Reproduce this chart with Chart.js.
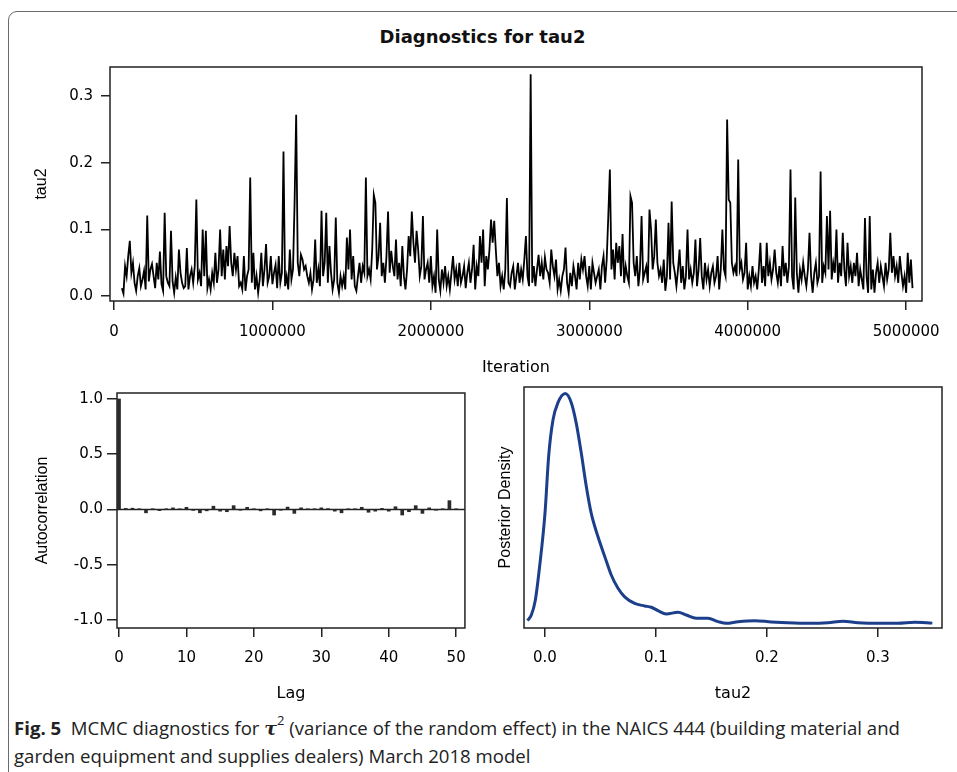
<!DOCTYPE html>
<html>
<head>
<meta charset="utf-8">
<script src="https://cdn.jsdelivr.net/npm/chart.js@4.4.1/dist/chart.umd.min.js"></script>
<style>
  body { margin: 0; width: 957px; height: 772px; overflow: hidden; background: #fff; position: relative; }
  #frame { position: absolute; left: 8px; top: 11px; width: 1000px; height: 800px; border: 1.5px solid #6b6b6b; border-radius: 9px; }
  #title { position: absolute; left: 0; top: 26px; width: 965px; text-align: center; font: bold 18px "DejaVu Sans", sans-serif; line-height: 22px; color: #111; }
  canvas { position: absolute; }
  #trace { left: 0; top: 50px; }
  #acf { left: 0; top: 380px; }
  #dens { left: 478px; top: 380px; }
  #caption { position: absolute; left: 14px; top: 714px; font: 18.6px "Open Sans", sans-serif; line-height: 27px; color: #222;
             white-space: nowrap; }
  #caption b { font-weight: 700; }
  #caption .tau { font-family: "DejaVu Serif", serif; font-style: italic; font-weight: bold; font-size: 19px; }
  #caption sup { font-size: 13px; position: relative; top: -3px; line-height: 0; }
</style>
</head>
<body>
<div id="frame"></div>
<div id="title">Diagnostics for tau2</div>
<canvas id="trace" width="957" height="330"></canvas>
<canvas id="acf" width="478" height="330"></canvas>
<canvas id="dens" width="479" height="330"></canvas>
<div id="caption"><b>Fig. 5</b>&nbsp; MCMC diagnostics for <span class="tau">τ</span><sup>2</sup> (variance of the random effect) in the NAICS 444 (building material and<br>garden equipment and supplies dealers) March 2018 model</div>

<script>
// trace of tau2, one value every 10000 iterations starting at 50000
const firstIter = 50000;
const thinBy = 10000;
const tau2Trace = [
  0.012,0.004,0.045,0.030,0.060,0.083,0.035,0.050,0.020,0.008,0.030,0.042,0.015,0.025,0.038,0.010,0.121,0.022,0.040,0.048,
  0.030,0.012,0.050,0.025,0.067,0.018,0.008,0.125,0.030,0.020,0.015,0.098,0.022,0.005,0.028,0.010,0.070,0.035,0.020,0.012,
  0.015,0.072,0.010,0.030,0.040,0.020,0.045,0.145,0.025,0.035,0.015,0.100,0.030,0.098,0.012,0.025,0.010,0.035,0.020,0.065,
  0.020,0.040,0.100,0.030,0.070,0.025,0.075,0.045,0.105,0.050,0.030,0.065,0.040,0.060,0.015,0.020,0.010,0.060,0.008,0.030,
  0.040,0.178,0.020,0.065,0.010,0.030,0.005,0.025,0.065,0.015,0.040,0.078,0.020,0.030,0.060,0.018,0.035,0.047,0.012,0.060,
  0.020,0.035,0.217,0.015,0.030,0.010,0.070,0.025,0.040,0.140,0.272,0.050,0.030,0.062,0.055,0.040,0.045,0.030,0.020,0.035,
  0.010,0.025,0.085,0.020,0.040,0.015,0.128,0.030,0.050,0.125,0.020,0.075,0.035,0.010,0.025,0.118,0.020,0.005,0.030,0.015,
  0.030,0.010,0.088,0.040,0.100,0.025,0.060,0.015,0.008,0.030,0.050,0.020,0.045,0.035,0.178,0.030,0.040,0.025,0.070,0.152,
  0.140,0.040,0.060,0.110,0.030,0.050,0.020,0.060,0.127,0.035,0.068,0.045,0.030,0.085,0.025,0.050,0.015,0.075,0.030,0.010,
  0.040,0.090,0.060,0.127,0.080,0.050,0.098,0.070,0.030,0.045,0.120,0.025,0.040,0.050,0.020,0.060,0.015,0.030,0.005,0.100,
  0.025,0.008,0.040,0.020,0.045,0.015,0.030,0.010,0.035,0.060,0.025,0.040,0.015,0.050,0.020,0.030,0.045,0.012,0.035,0.050,
  0.020,0.040,0.077,0.010,0.045,0.030,0.090,0.050,0.100,0.015,0.060,0.040,0.070,0.115,0.080,0.113,0.070,0.030,0.050,0.015,
  0.030,0.010,0.040,0.147,0.020,0.015,0.035,0.045,0.010,0.030,0.050,0.020,0.040,0.025,0.055,0.090,0.030,0.015,0.333,0.020,
  0.045,0.015,0.040,0.062,0.030,0.050,0.025,0.058,0.040,0.035,0.020,0.070,0.045,0.030,0.055,0.010,0.025,0.008,0.030,0.040,
  0.073,0.020,0.005,0.035,0.015,0.045,0.030,0.010,0.050,0.025,0.055,0.040,0.060,0.030,0.015,0.045,0.010,0.050,0.035,0.020,
  0.030,0.040,0.010,0.045,0.060,0.020,0.055,0.120,0.190,0.040,0.070,0.025,0.080,0.050,0.075,0.030,0.093,0.020,0.045,0.030,
  0.020,0.150,0.140,0.050,0.030,0.060,0.015,0.040,0.120,0.025,0.035,0.045,0.020,0.130,0.100,0.040,0.060,0.115,0.050,0.030,
  0.040,0.020,0.055,0.008,0.030,0.110,0.025,0.142,0.050,0.035,0.015,0.040,0.070,0.020,0.045,0.010,0.030,0.100,0.025,0.040,
  0.020,0.035,0.085,0.015,0.040,0.087,0.030,0.010,0.050,0.025,0.040,0.015,0.035,0.045,0.020,0.030,0.060,0.010,0.040,0.100,
  0.040,0.030,0.265,0.145,0.140,0.050,0.035,0.045,0.030,0.205,0.040,0.050,0.025,0.035,0.080,0.010,0.030,0.015,0.045,0.020,
  0.030,0.010,0.040,0.080,0.020,0.045,0.015,0.080,0.030,0.050,0.025,0.040,0.070,0.035,0.020,0.045,0.015,0.075,0.030,0.050,
  0.020,0.045,0.190,0.030,0.010,0.148,0.035,0.005,0.040,0.025,0.050,0.030,0.015,0.040,0.095,0.030,0.005,0.035,0.050,0.020,
  0.030,0.187,0.020,0.045,0.035,0.120,0.040,0.128,0.025,0.050,0.035,0.100,0.020,0.050,0.030,0.095,0.040,0.015,0.080,0.030,
  0.045,0.020,0.050,0.030,0.065,0.015,0.040,0.025,0.010,0.117,0.030,0.005,0.120,0.010,0.040,0.005,0.035,0.050,0.020,0.045,
  0.030,0.015,0.050,0.025,0.040,0.095,0.035,0.060,0.030,0.045,0.020,0.060,0.035,0.015,0.030,0.005,0.065,0.020,0.055,0.012
];
const iterTicks = [0, 1000000, 2000000, 3000000, 4000000, 5000000];
const tau2Ticks = [0, 0.1, 0.2, 0.3];

// autocorrelation by lag
const acfValues = [
  1.0, 0.010, 0.012, 0.005, -0.030, 0.005, -0.010, 0.005, 0.015, 0.003,
  0.020, -0.008, -0.030, -0.012, 0.030, -0.015, -0.020, 0.035, -0.005, 0.020,
  0.003, -0.012, 0.002, -0.050, -0.005, 0.022, -0.035, 0.015, 0.003, 0.002,
  0.015, 0.008, -0.015, -0.030, 0.002, 0.002, 0.020, -0.025, -0.015, 0.010,
  -0.015, 0.025, -0.050, -0.020, 0.035, -0.035, 0.015, -0.005, 0.002, 0.080,
  0.002
];
const lagTicks = [0, 10, 20, 30, 40, 50];
const acfTicks = [-1, -0.5, 0, 0.5, 1];

// posterior density of tau2
const densX = [-0.0157, -0.0123, -0.0087, -0.0048, 0.0, 0.0033, 0.0072, 0.0117, 0.0183, 0.0237,
  0.0282, 0.0327, 0.0372, 0.0417, 0.0477, 0.0538, 0.0597, 0.0658, 0.0718, 0.0808,
  0.0898, 0.0958, 0.1018, 0.1093, 0.1198, 0.1273, 0.1363, 0.1468, 0.1559, 0.1633,
  0.174, 0.189, 0.204, 0.225, 0.240, 0.255, 0.2685, 0.282, 0.300, 0.318, 0.333, 0.349];
const densY = [0.32, 1.0, 2.8, 6.9, 13.3, 20.2, 24.6, 26.7, 27.8, 26.7,
  24.2, 20.6, 16.6, 13.3, 10.5, 8.1, 5.85, 4.24, 3.2, 2.4,
  2.1, 1.94, 1.53, 1.13, 1.33, 1.0, 0.6, 0.6, 0.2, 0.0,
  0.2, 0.32, 0.16, 0.04, 0.0, 0.08, 0.25, 0.08, 0.0, 0.0, 0.12, 0.02];
const densTicks = [0, 0.1, 0.2, 0.3];

Chart.defaults.font.family = '"DejaVu Sans", sans-serif';
Chart.defaults.font.size = 15;
Chart.defaults.color = '#000';
Chart.defaults.animation = false;
Chart.defaults.plugins.legend.display = false;
Chart.defaults.plugins.tooltip.enabled = false;

const ink = '#222';

const boxPlugin = {
  id: 'box',
  afterDraw(chart) {
    const { ctx, chartArea: a } = chart;
    ctx.save();
    ctx.strokeStyle = ink;
    ctx.lineWidth = 1.5;
    ctx.strokeRect(a.left, a.top, a.right - a.left, a.bottom - a.top);
    ctx.restore();
  }
};

const zeroLine = {
  id: 'zeroLine',
  beforeDatasetsDraw(chart) {
    const { ctx, chartArea: a, scales } = chart;
    const y = scales.y.getPixelForValue(0);
    ctx.save();
    ctx.strokeStyle = ink;
    ctx.lineWidth = 1.5;
    ctx.beginPath();
    ctx.moveTo(a.left, y);
    ctx.lineTo(a.right, y);
    ctx.stroke();
    ctx.restore();
  }
};

const oneDecimal = v => Number(v).toFixed(1);

function xAxis(min, max, ticks, label, fmt, height, tickPad, titlePad) {
  return {
    type: 'linear', min: min, max: max, offset: false,
    afterBuildTicks: s => { s.ticks = ticks.map(v => ({ value: v })); },
    afterFit: s => { s.height = height; },
    grid: { drawOnChartArea: false, drawTicks: true, tickLength: 9, color: ink, lineWidth: 1.5, offset: false },
    border: { display: false },
    ticks: { padding: tickPad, maxRotation: 0, minRotation: 0, autoSkip: false, callback: fmt },
    title: { display: true, text: label, font: { size: 16 }, padding: { top: 0, bottom: titlePad } }
  };
}

function yAxis(min, max, ticks, label, width, tickLen, tickPad, titlePad) {
  return {
    type: 'linear', min: min, max: max,
    afterBuildTicks: s => { s.ticks = ticks.map(v => ({ value: v })); },
    afterFit: s => { s.width = width; },
    grid: { drawOnChartArea: false, drawTicks: true, tickLength: tickLen, color: ink, lineWidth: 1.5 },
    border: { display: false },
    ticks: { padding: tickPad, callback: oneDecimal },
    title: { display: true, text: label, font: { family: '"Liberation Sans", sans-serif', size: 16 }, padding: { top: titlePad, bottom: 0 } }
  };
}

new Chart(document.getElementById('trace'), {
  type: 'line',
  data: {
    datasets: [{
      data: tau2Trace.map((v, i) => ({ x: firstIter + i * thinBy, y: v })),
      borderColor: '#000',
      borderWidth: 1.8,
      pointRadius: 0,
      tension: 0
    }]
  },
  options: {
    responsive: false,
    layout: { padding: { top: 10, right: 35, left: 0, bottom: 0 } },
    scales: {
      x: xAxis(-25000, 5100000, iterTicks, 'Iteration', v => String(v), 79, 13, 3),
      y: yAxis(-0.0073, 0.3437, tau2Ticks, 'tau2', 110, 9, 8, 32.4)
    }
  },
  plugins: [boxPlugin]
});

new Chart(document.getElementById('acf'), {
  type: 'bar',
  data: {
    datasets: [{
      data: acfValues.map((v, lag) => ({ x: lag, y: v })),
      backgroundColor: '#2a2a2a',
      barThickness: 3
    }]
  },
  options: {
    responsive: false,
    layout: { padding: { top: 13, right: 12, left: 0, bottom: 0 } },
    scales: {
      x: xAxis(-0.3, 51.3, lagTicks, 'Lag', v => String(v), 82, 12, 7),
      y: yAxis(-1.072, 1.054, acfTicks, 'Autocorrelation', 117, 10, 4, 32.9)
    }
  },
  plugins: [zeroLine, boxPlugin]
});

const densAxisY = yAxis(-0.57, 28.6, [], 'Posterior Density', 46, 0, 0, 18.4);
densAxisY.ticks.display = false;
densAxisY.grid.display = false;

new Chart(document.getElementById('dens'), {
  type: 'line',
  data: {
    datasets: [{
      data: densX.map((x, i) => ({ x: x, y: densY[i] })),
      borderColor: '#1b3f8b',
      borderWidth: 3,
      pointRadius: 0,
      cubicInterpolationMode: 'monotone'
    }]
  },
  options: {
    responsive: false,
    layout: { padding: { top: 7, right: 15, left: 0, bottom: 0 } },
    scales: {
      x: xAxis(-0.0189, 0.3577, densTicks, 'tau2', oneDecimal, 82, 12, 7),
      y: densAxisY
    }
  },
  plugins: [boxPlugin]
});
</script>
</body>
</html>
